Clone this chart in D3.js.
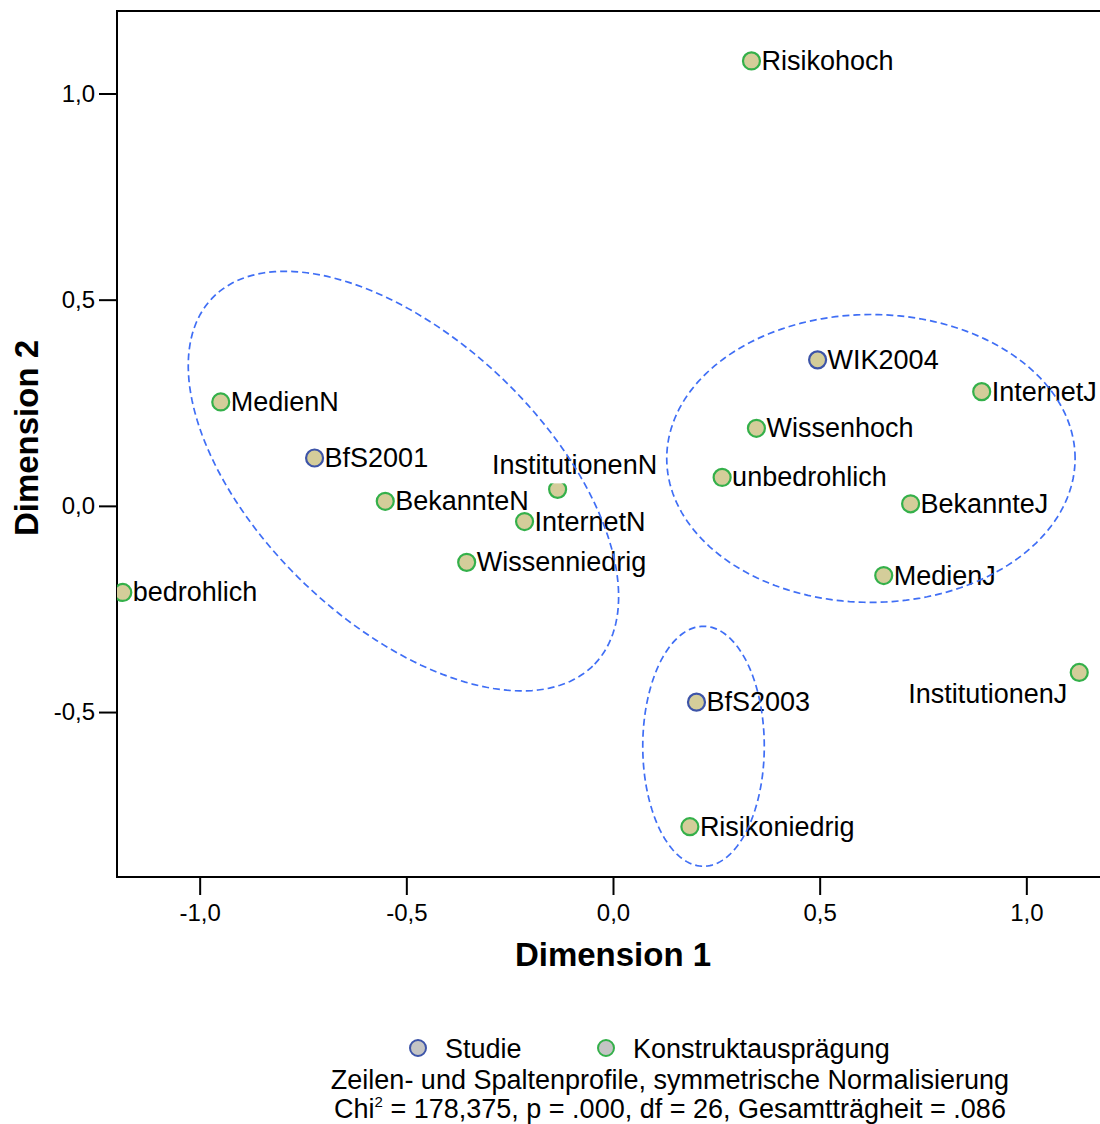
<!DOCTYPE html>
<html>
<head>
<meta charset="utf-8">
<script src="https://cdn.jsdelivr.net/npm/d3@7"></script>
<style>
  body { margin: 0; background: #fff; }
  svg { display: block; font-family: "Liberation Sans", Arial, sans-serif; }
</style>
</head>
<body>
<svg id="chart" width="1100" height="1124"></svg>
<script>
// Correspondence analysis: row (study) and column (construct level) points
const pointNames = [
  "Risikohoch", "WIK2004", "InternetJ", "Wissenhoch", "unbedrohlich", "BekannteJ",
  "MedienJ", "InstitutionenJ", "BfS2003", "Risikoniedrig", "MedienN", "BfS2001",
  "BekannteN", "InstitutionenN", "InternetN", "Wissenniedrig", "bedrohlich"
];
const dim1 = [
  0.335, 0.495, 0.892, 0.347, 0.264, 0.720,
  0.655, 1.128, 0.202, 0.186, -0.949, -0.722,
  -0.551, -0.134, -0.214, -0.354, -1.186
];
const dim2 = [
  1.079, 0.354, 0.277, 0.188, 0.069, 0.005,
  -0.169, -0.404, -0.476, -0.778, 0.252, 0.116,
  0.011, 0.040, -0.038, -0.137, -0.210
];
const pointGroup = [
  "K", "S", "K", "K", "K", "K",
  "K", "K", "S", "K", "K", "S",
  "K", "K", "K", "K", "K"
];

// Legend entries
const groupKeys = ["S", "K"];
const groupLabels = ["Studie", "Konstruktausprägung"];

// Axis ticks
const xTicks = [-1.0, -0.5, 0.0, 0.5, 1.0];
const yTicks = [-0.5, 0.0, 0.5, 1.0];

// Grouping ellipses (data units; angle in degrees, counter-clockwise)
const ellipseCx = [-0.507, 0.624, 0.219];
const ellipseCy = [0.060, 0.115, -0.583];
const ellipseRx = [0.641, 0.494, 0.147];
const ellipseRy = [0.345, 0.349, 0.291];
const ellipseAngle = [-43.8, 0, 0];

// Footnote lines
const noteLine1 = "Zeilen- und Spaltenprofile, symmetrische Normalisierung";
const noteLine2a = "Chi";
const noteLine2b = " = 178,375, p = .000, df = 26, Gesamtträgheit = .086";

// Label placement around a point
const labelPlacement = { InstitutionenN: "above", InstitutionenJ: "belowLeft" };

const strokeColor = { S: "#3d54a8", K: "#34b04a" };
const pointFill = "#d4cd9a";

const svg = d3.select("#chart");
const plotLeft = 117, plotTop = 11, plotBottom = 877, plotRight = 1109;

const x = d3.scaleLinear().domain([-1.2, 1.2]).range([plotLeft, plotRight]);
const y = d3.scaleLinear().domain([-0.9, 1.2]).range([plotBottom, plotTop]);

const de = d3.formatLocale({ decimal: ",", thousands: ".", grouping: [3], currency: ["", "€"], minus: "-" });
const fmt = de.format(".1f");

svg.append("defs").append("clipPath").attr("id", "plotClip")
  .append("rect").attr("x", plotLeft).attr("y", plotTop)
  .attr("width", plotRight - plotLeft).attr("height", plotBottom - plotTop);

// Axes
const xAxis = svg.append("g").attr("transform", `translate(0,${plotBottom})`)
  .call(d3.axisBottom(x).tickValues(xTicks).tickFormat(fmt).tickSize(18).tickPadding(9));
const yAxis = svg.append("g").attr("transform", `translate(${plotLeft},0)`)
  .call(d3.axisLeft(y).tickValues(yTicks).tickFormat(fmt).tickSize(18).tickPadding(4));
[xAxis, yAxis].forEach(g => {
  g.select(".domain").remove();
  g.selectAll("line").attr("stroke", "#000").attr("stroke-width", 2);
  g.selectAll("text").attr("font-size", 24).attr("fill", "#000")
    .attr("font-family", "'Liberation Sans', Arial, sans-serif");
});

// Plot frame
svg.append("rect")
  .attr("x", plotLeft).attr("y", plotTop).attr("width", plotRight - plotLeft).attr("height", plotBottom - plotTop)
  .attr("fill", "none").attr("stroke", "#000").attr("stroke-width", 2);

// Points
const pts = pointNames.map((n, i) => ({ name: n, d1: dim1[i], d2: dim2[i], g: pointGroup[i] }));

svg.append("g").attr("clip-path", "url(#plotClip)")
  .selectAll("circle").data(pts).join("circle")
  .attr("cx", d => x(d.d1)).attr("cy", d => y(d.d2)).attr("r", 8.5)
  .attr("fill", pointFill).attr("stroke", d => strokeColor[d.g]).attr("stroke-width", 2.2);

// Point labels (offset labels get an opaque background)
const labelG = svg.append("g");
pts.forEach(d => {
  const place = labelPlacement[d.name] || "right";
  const cx = x(d.d1), cy = y(d.d2);
  const g = labelG.append("g");
  const t = g.append("text").text(d.name).attr("font-size", 27).attr("fill", "#000");
  if (place === "right") {
    t.attr("x", cx + 10).attr("y", cy + 9).attr("text-anchor", "start");
  } else if (place === "above") {
    t.attr("x", cx + 17).attr("y", cy - 15).attr("text-anchor", "middle");
  } else {
    t.attr("x", cx - 12).attr("y", cy + 31).attr("text-anchor", "end");
  }
  if (place !== "right") {
    const bb = t.node().getBBox();
    g.insert("rect", "text").attr("x", bb.x).attr("y", bb.y)
      .attr("width", bb.width).attr("height", bb.height + 3)
      .attr("fill", "#fff");
  }
});

// Group ellipses
const ellipseLine = d3.line().x(p => x(p[0])).y(p => y(p[1])).curve(d3.curveLinearClosed);
const steps = d3.range(0, 360, 2);
ellipseCx.forEach((cx0, i) => {
  const a = ellipseAngle[i] * Math.PI / 180;
  const ring = steps.map(s => {
    const t = s * Math.PI / 180;
    const u = ellipseRx[i] * Math.cos(t), v = ellipseRy[i] * Math.sin(t);
    return [cx0 + u * Math.cos(a) - v * Math.sin(a), ellipseCy[i] + u * Math.sin(a) + v * Math.cos(a)];
  });
  svg.append("path").attr("d", ellipseLine(ring))
    .attr("fill", "none").attr("stroke", "#3f6ef5").attr("stroke-width", 1.7)
    .attr("stroke-dasharray", "7,4");
});

// Axis titles
svg.append("text").attr("x", (plotLeft + plotRight) / 2).attr("y", 966).attr("text-anchor", "middle")
  .attr("font-size", 33).attr("font-weight", "bold").text("Dimension 1");
svg.append("text").attr("transform", `translate(38,${(plotTop + plotBottom) / 2 - 6}) rotate(-90)`)
  .attr("text-anchor", "middle").attr("font-size", 33).attr("font-weight", "bold").text("Dimension 2");

// Legend
const legendX = [418, 606];
groupKeys.forEach((k, i) => {
  svg.append("circle").attr("cx", legendX[i]).attr("cy", 1048).attr("r", 8)
    .attr("fill", "#c4c4c4").attr("stroke", strokeColor[k]).attr("stroke-width", 2);
  svg.append("text").attr("x", legendX[i] + 27).attr("y", 1058).attr("font-size", 27).text(groupLabels[i]);
});

// Footnote
svg.append("text").attr("x", 670).attr("y", 1089).attr("text-anchor", "middle").attr("font-size", 27).text(noteLine1);
const n2 = svg.append("text").attr("x", 670).attr("y", 1118).attr("text-anchor", "middle").attr("font-size", 27);
n2.append("tspan").text(noteLine2a);
n2.append("tspan").attr("font-size", 15).attr("dy", -11).text("2");
n2.append("tspan").attr("dy", 11).text(noteLine2b);
</script>
</body>
</html>
